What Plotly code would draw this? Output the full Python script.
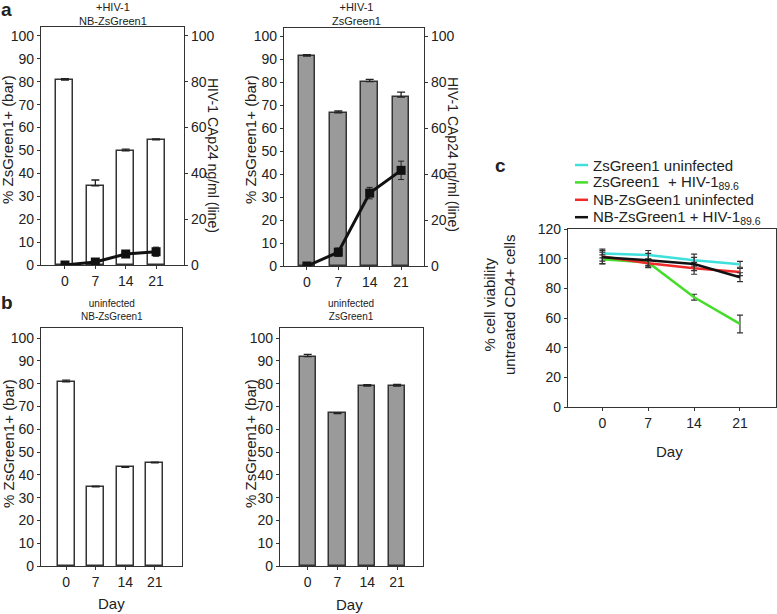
import plotly.graph_objects as go

W, H = 777, 614
FONT = "Liberation Sans, Arial, sans-serif"

# ---- data ----
days = ["0", "7", "14", "21"]
day_num = [0, 7, 14, 21]

# panel a: +HIV-1
a_nb_bar = [80.7, 34.6, 49.8, 54.6]
a_nb_bar_err = [0.7, 2.5, 0.8, 0.5]
a_nb_p24 = [0.0, 1.3, 4.8, 5.8]
a_nb_p24_err = [0.3, 0.5, 1.5, 2.0]

a_zs_bar = [91.3, 66.6, 80.2, 73.4]
a_zs_bar_err = [0.6, 0.8, 1.0, 2.2]
a_zs_p24 = [0.0, 6.0, 31.7, 41.6]
a_zs_p24_err = [0.5, 1.8, 2.5, 4.0]

# panel b: uninfected
b_nb_bar = [80.8, 34.7, 43.3, 45.2]
b_nb_bar_err = [0.7, 0.3, 0.3, 0.3]
b_zs_bar = [91.8, 66.9, 78.9, 78.9]
b_zs_bar_err = [1.0, 0.3, 0.6, 0.8]

# panel c: cell viability
c_names = ["ZsGreen1 uninfected", "ZsGreen1  + HIV-1<sub>89.6</sub>",
           "NB-ZsGeen1 uninfected", "NB-ZsGreen1 + HIV-1<sub>89.6</sub>"]
c_colors = ["#3fe0dc", "#44dd2a", "#ee2a2a", "#111111"]
c_values = [
    [103.5, 102.5, 99.0, 96.2],
    [99.6, 97.5, 74.0, 56.0],
    [101.4, 96.9, 93.5, 91.0],
    [101.0, 99.0, 96.4, 87.5],
]
c_errors = [
    [3.0, 3.0, 4.0, 2.0],
    [3.0, 2.0, 2.0, 6.0],
    [3.0, 3.0, 4.0, 2.5],
    [4.5, 4.5, 4.5, 3.0],
]


def dx(a, b):
    return [a / W, b / W]


def dy(top, bottom):
    return [1 - bottom / H, 1 - top / H]


fig = go.Figure()

bar_line = dict(color="#333333", width=1.5)


def add_bars(vals, errs, color, xa, ya, width):
    fig.add_trace(go.Bar(
        x=days, y=vals, width=width, marker=dict(color=color, line=bar_line),
        error_y=dict(type="data", symmetric=False, array=errs, arrayminus=[0] * 4,
                     color="#222222", thickness=1.3, width=4),
        xaxis=xa, yaxis=ya, showlegend=False))


def add_p24(vals, errs, xa, ya):
    fig.add_trace(go.Scatter(
        x=days, y=vals, mode="lines+markers",
        line=dict(color="#111111", width=3),
        marker=dict(symbol="square", size=9, color="#111111"),
        error_y=dict(type="data", array=errs, color="#222222", thickness=1, width=3),
        xaxis=xa, yaxis=ya, showlegend=False))


add_bars(a_nb_bar, a_nb_bar_err, "white", "x", "y", 0.56)
add_p24(a_nb_p24, a_nb_p24_err, "x", "y2")
add_bars(a_zs_bar, a_zs_bar_err, "#9a9a9a", "x2", "y3", 0.53)
add_p24(a_zs_p24, a_zs_p24_err, "x2", "y4")
add_bars(b_nb_bar, b_nb_bar_err, "white", "x3", "y5", 0.58)
add_bars(b_zs_bar, b_zs_bar_err, "#9a9a9a", "x4", "y6", 0.55)

for name, col, vals, errs in zip(c_names, c_colors, c_values, c_errors):
    fig.add_trace(go.Scatter(
        x=day_num, y=vals, mode="lines", name=name,
        line=dict(color=col, width=2.5),
        error_y=dict(type="data", array=errs, color="#333333", thickness=1.2, width=3),
        xaxis="x5", yaxis="y7", showlegend=False))

axcommon = dict(showline=True, linecolor="#333333", linewidth=1.4, ticks="outside",
                ticklen=3, tickcolor="#333333", showgrid=False, zeroline=False,
                tickfont=dict(family=FONT, size=14, color="#222222"), fixedrange=True)

bar_y = dict(axcommon, tickvals=list(range(0, 101, 10)), mirror=True)
right_y = dict(axcommon, tickvals=list(range(0, 101, 20)), side="right")
cat_x = dict(axcommon, type="category", mirror=True)

fig.update_layout(
    width=W, height=H, margin=dict(l=0, r=0, t=0, b=0, autoexpand=False),
    paper_bgcolor="white", plot_bgcolor="white",
    font=dict(family=FONT, color="#222222"),
    bargap=0,
    showlegend=False,
    xaxis=dict(cat_x, domain=dx(41, 184), range=[-0.79, 3.92], anchor="y"),
    yaxis=dict(bar_y, domain=dy(27, 265), range=[0, 103.9], anchor="x"),
    yaxis2=dict(right_y, overlaying="y", range=[0, 103.9], anchor="x"),
    xaxis2=dict(cat_x, domain=dx(284, 424), range=[-0.73, 3.73], anchor="y3"),
    yaxis3=dict(bar_y, domain=dy(28, 266), range=[0, 103.5], anchor="x2"),
    yaxis4=dict(right_y, overlaying="y3", range=[0, 103.5], anchor="x2"),
    xaxis3=dict(cat_x, domain=dx(41, 182), range=[-0.85, 3.92], anchor="y5"),
    yaxis5=dict(bar_y, domain=dy(328, 566), range=[0, 104.4], anchor="x3"),
    xaxis4=dict(cat_x, domain=dx(280, 423), range=[-0.93, 3.87], anchor="y6"),
    yaxis6=dict(bar_y, domain=dy(328, 566), range=[0, 104.4], anchor="x4"),
    xaxis5=dict(axcommon, mirror=True, domain=dx(568, 776), range=[-5.25, 26.5],
                tickvals=day_num, anchor="y7"),
    yaxis7=dict(axcommon, mirror=True, domain=dy(229, 407), range=[0, 120],
                tickvals=list(range(0, 121, 20)), anchor="x5"),
)


def ann(text, px, py, size=15, angle=0, bold=False, xanchor="center"):
    if bold:
        text = "<b>" + text + "</b>"
    fig.add_annotation(text=text, x=px / W, y=1 - py / H, xref="paper", yref="paper",
                       showarrow=False, textangle=angle, xanchor=xanchor, yanchor="middle",
                       font=dict(family=FONT, size=size, color="#222222"))


# legend for panel c (short key line + label)
for i, (name, col) in enumerate(zip(c_names, c_colors)):
    ly = 165 + i * 17.4
    fig.add_shape(type="line", xref="paper", yref="paper",
                  x0=575 / W, x1=588 / W, y0=1 - ly / H, y1=1 - ly / H,
                  line=dict(color=col, width=2.5))
    ann(name, 591, ly, 15, xanchor="left")

# panel letters
ann("a", 6, 9, 19, bold=True)
ann("b", 7, 302, 19, bold=True)
ann("c", 500, 165, 19, bold=True)

# panel titles
ann("+HIV-1<br>NB-ZsGreen1", 113, 14, 11)
ann("+HIV-1<br>ZsGreen1", 356, 14, 11)
ann("uninfected<br>NB-ZsGreen1", 112, 310, 10)
ann("uninfected<br>ZsGreen1", 351, 310, 10)

# y axis titles
ann("% ZsGreen1+ (bar)", 7, 140, 15, -90)
ann("HIV-1 CAp24 ng/ml (line)", 213, 155, 14, 90)
ann("% ZsGreen1+ (bar)", 250, 140, 15, -90)
ann("HIV-1 CAp24 ng/ml (line)", 453, 155, 14, 90)
ann("% ZsGreen1+ (bar)", 8, 444, 15, -90)
ann("% ZsGreen1+ (bar)", 250, 444, 15, -90)
ann("% cell viability<br>untreated CD4+ cells", 499, 305, 15, -90)

# x axis titles
ann("Day", 111, 603, 15)
ann("Day", 349, 604, 15)
ann("Day", 669, 451, 15)

# the page body has a default margin; drop it so the figure starts at (0, 0)
fig.write_html("out.html", config={"displayModeBar": False},
               post_script="document.body.style.margin='0';")
